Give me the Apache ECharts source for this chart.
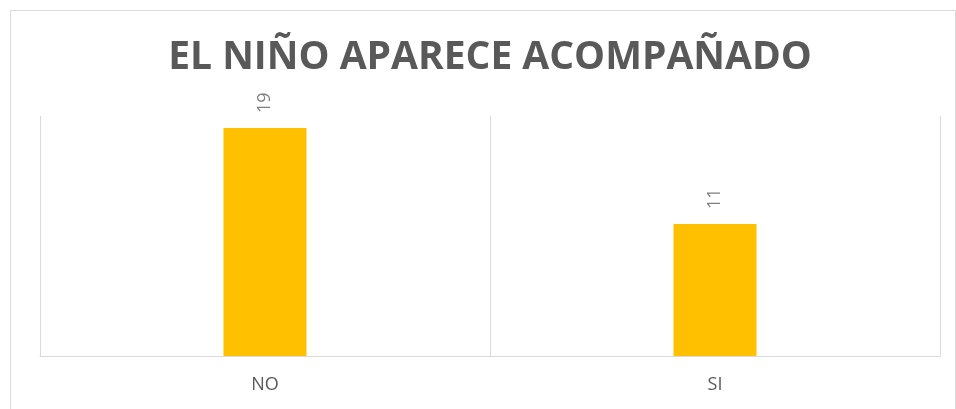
<!DOCTYPE html>
<html>
<head>
<meta charset="utf-8">
<script src="https://cdn.jsdelivr.net/npm/echarts@6/dist/echarts.min.js"></script>
<style>
html,body{margin:0;padding:0;background:#fff;}
#chart{width:956px;height:409px;}
</style>
</head>
<body>
<div id="chart"></div>
<script>
var titleText = 'EL NIÑO APARECE ACOMPAÑADO';
var categories = ['NO', 'SI'];
var values = [19, 11];

var chart = echarts.init(document.getElementById('chart'), null, {renderer: 'canvas'});
chart.setOption({
  animation: false,
  backgroundColor: '#ffffff',
  graphic: [
    {type: 'rect', shape: {x: 10.5, y: 10.5, width: 945, height: 410}, style: {fill: 'none', stroke: '#d9d9d9', lineWidth: 1}, silent: true},
    {type: 'text', x: 490, y: 58, style: {text: titleText, textAlign: 'center', textVerticalAlign: 'middle', font: 'bold 39px "Open Sans"', fill: '#595959'}}
  ],
  grid: {left: 40, right: 16, top: 116, bottom: 53},
  xAxis: {
    type: 'category',
    data: categories,
    axisLine: {show: true, lineStyle: {color: '#d9d9d9', width: 1}},
    axisTick: {show: false},
    splitLine: {show: true, lineStyle: {color: '#d9d9d9', width: 1}},
    axisLabel: {color: '#595959', fontSize: 18, fontFamily: 'Open Sans', margin: 20}
  },
  yAxis: {
    type: 'value', min: 0, max: 20, interval: 2,
    show: false,
    splitLine: {show: false}
  },
  series: [{
    type: 'bar',
    data: values,
    barWidth: 83,
    itemStyle: {color: '#FFC000'},
    label: {
      show: true, position: 'top', rotate: 90, align: 'left', verticalAlign: 'middle',
      distance: 15, color: '#7f7f7f', fontSize: 18, fontFamily: 'Open Sans'
    }
  }]
});
</script>
</body>
</html>
